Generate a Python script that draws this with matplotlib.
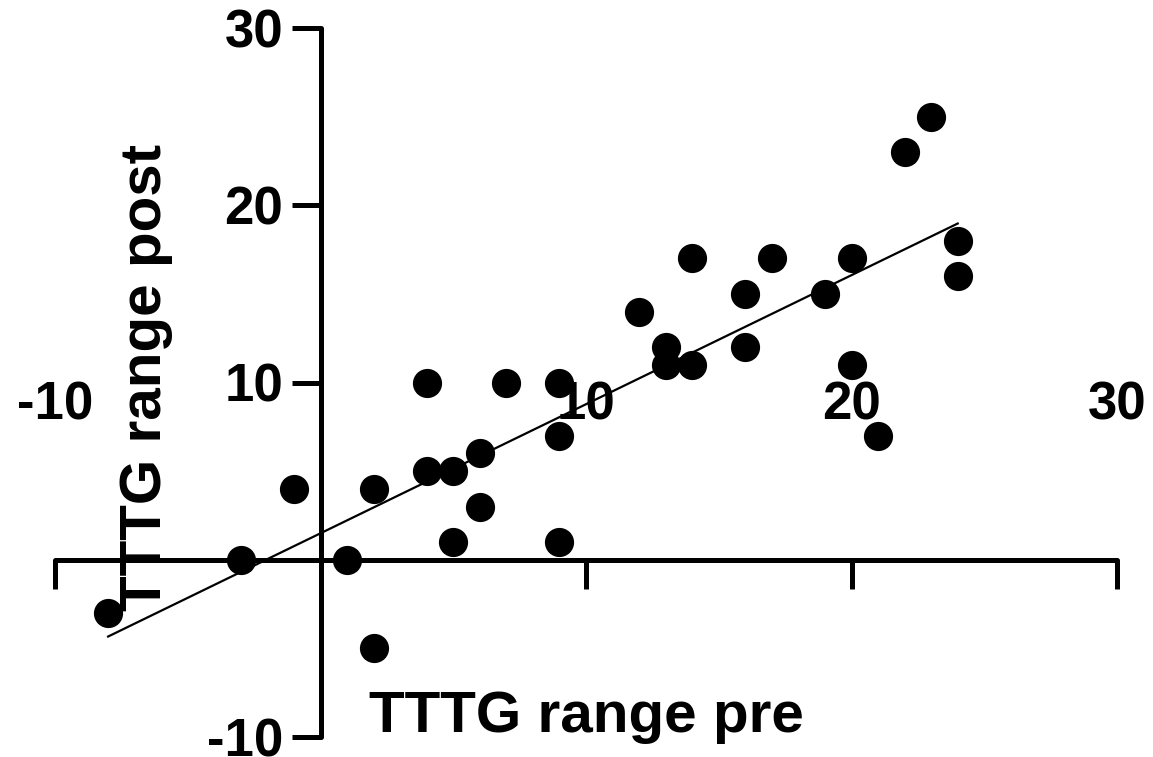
import matplotlib
matplotlib.use("Agg")
import matplotlib.pyplot as plt
import numpy as np

# TTTG range pre vs post
pre = [-8, -3, -1, 1, 2, 2, 4, 4, 5, 5, 6, 6, 7, 9, 9, 9,
       12, 13, 13, 14, 14, 16, 16, 17, 19, 20, 20, 21, 22, 23, 24, 24]
post = [-3, 0, 4, 0, 4, -5, 10, 5, 5, 1, 6, 3, 10, 10, 7, 1,
        14, 12, 11, 11, 17, 15, 12, 17, 15, 17, 11, 7, 23, 25, 18, 16]

x_ticks = [-10, 10, 20, 30]
y_ticks = [-10, 10, 20, 30]

plt.rcParams["font.family"] = ["Liberation Sans", "DejaVu Sans"]
plt.rcParams["font.weight"] = "bold"
plt.rcParams["axes.unicode_minus"] = False

W, H = 1153, 757
fig = plt.figure(figsize=(W / 100, H / 100), dpi=100)
ax = fig.add_axes([55 / W, (H - 737) / H, (1117 - 55) / W, (737 - 28) / H])
ax.set_xlim(-10, 30)
ax.set_ylim(-10, 30)

ax.spines["top"].set_visible(False)
ax.spines["right"].set_visible(False)
ax.spines["left"].set_position(("data", 0))
ax.spines["bottom"].set_position(("data", 0))
for s in ("left", "bottom"):
    ax.spines[s].set_linewidth(3.6)
    ax.spines[s].set_capstyle("round")

ax.set_xticks(x_ticks)
ax.set_yticks(y_ticks)
ax.tick_params(axis="both", direction="out", length=21, width=3.6)
ax.tick_params(axis="y", labelsize=38, pad=6)
ax.set_xticklabels([])
for t in ax.get_yticklabels():
    t.set_fontweight("bold")

# x tick labels sit above the axis in the original
for xt in x_ticks:
    ax.text(xt, 8.7, str(xt), ha="center", va="center",
            fontsize=38, fontweight="bold")

ax.scatter(pre, post, s=400, color="black", zorder=3, clip_on=False)

slope, intercept = np.polyfit(pre, post, 1)
xs = np.array([min(pre), max(pre)])
ax.plot(xs, slope * xs + intercept, color="black", lw=1.6)

fig.text(586 / W, (H - 732) / H, "TTTG range pre", ha="center", va="baseline",
         fontsize=42, fontweight="bold")
fig.text(146 / W, (H - 377) / H, "TTTG range post", ha="center", va="center",
         rotation=90, fontsize=42, fontweight="bold")

fig.savefig("out.png", dpi=100)
